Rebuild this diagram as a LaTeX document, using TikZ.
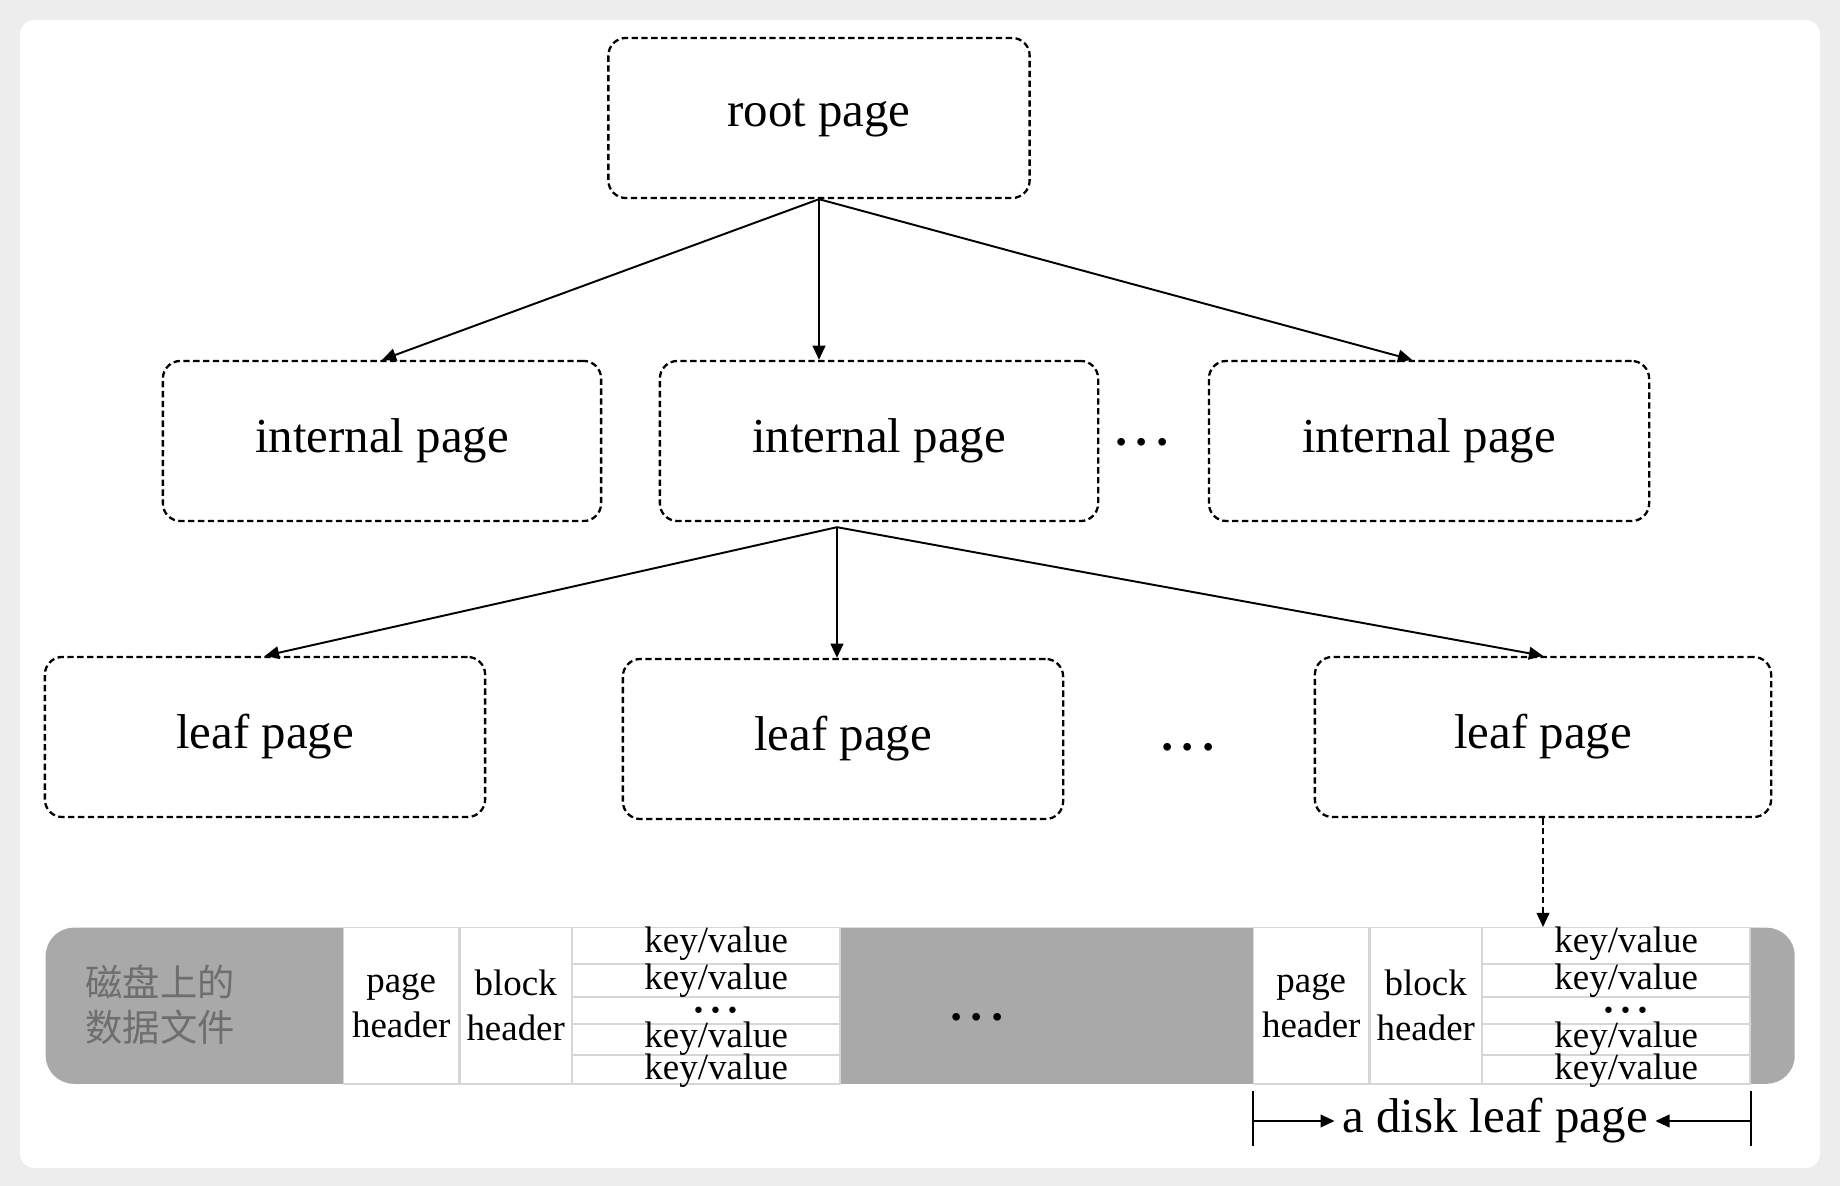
\documentclass[tikz,border=0pt]{standalone}
\usepackage{fontspec}
\setmainfont{Liberation Serif}
\newfontfamily\cjkfont{Noto Sans CJK SC}
\usetikzlibrary{arrows.meta}
\definecolor{bandgray}{HTML}{A9A9A9}
\definecolor{cellline}{HTML}{D6D6D6}
\definecolor{cjkgray}{HTML}{6E6E6E}
\definecolor{shotgray}{HTML}{EDEDED}

\tikzset{
  page/.style={draw, line width=0.65pt, dash pattern=on 1.8pt off 1pt, rounded corners=5pt,
    minimum height=1.6cm, font=\fontsize{13.9}{16}\selectfont},
  link/.style={line width=0.55pt, -{Triangle[length=4pt,width=3.6pt]}},
  cell/.style={draw=cellline, line width=0.4pt, fill=white, anchor=north west,
    minimum height=1.56cm, inner sep=0pt},
  small/.style={font=\fontsize{10.5}{12.8}\selectfont, inner sep=0pt, align=center},
  dots/.style={font=\fontsize{21}{21}\selectfont, inner sep=0pt},
}
\newcommand{\threedots}{${\cdot}{\cdot}{\cdot}$}

\begin{document}
\begin{tikzpicture}[x=0.01cm, y=-0.01cm]
\useasboundingbox (0,0) rectangle (1840,1186);
\fill[shotgray] (0,0) rectangle (1840,1186);
\fill[white, rounded corners=4pt] (20,20) rectangle (1820,1168);

% the tree
\node[page, minimum width=4.21cm] (root) at (819,118) {root page};
\node[page, minimum width=4.38cm] (int1) at (382,441) {internal page};
\node[page, minimum width=4.38cm] (int2) at (879,441) {internal page};
\node[page, minimum width=4.40cm] (int3) at (1429,441) {internal page};
\node[dots] (intdots) at (1142,444) {\threedots};
\node[page, minimum width=4.40cm] (leaf1) at (265,737) {leaf page};
\node[page, minimum width=4.40cm] (leaf2) at (843,739) {leaf page};
\node[page, minimum width=4.56cm] (leaf3) at (1543,737) {leaf page};
\node[dots] (leafdots) at (1188,749) {\threedots};

\draw[link] (root.south) -- (int1.north);
\draw[link] (root.south) -- (root.south |- int2.north);
\draw[link] (root.south) -- ([xshift=-0.17cm]int3.north);

\coordinate (fork) at ([xshift=-0.42cm,yshift=-0.05cm]int2.south);
\draw[link] (fork) -- (leaf1.north);
\draw[link] (fork) -- (fork |- leaf2.north);
\draw[link] (fork) -- (leaf3.north);

% data file on disk
\node[fill=bandgray, rounded corners=8pt, anchor=north west, minimum width=17.48cm,
  minimum height=1.56cm] (band) at (45,927) {};
\node[font=\cjkfont\fontsize{10.6}{12.7}\selectfont, text=cjkgray, align=left] (datafile)
  at (160,1005) {磁盘上的\\数据文件};
\node[dots] (banddots) at (977,1019) {\threedots};

\foreach \b/\x in {a/343, b/1253}{
  \node[cell, minimum width=1.15cm] (ph\b) at (\x,927) {};
  \node[cell, minimum width=1.11cm] (bh\b) at (ph\b.north east) {};
  \node[cell, minimum width=2.67cm] (kv\b) at (bh\b.north east) {};
  \foreach \y in {964,997,1024,1055}
    \draw[cellline, line width=0.4pt] (kv\b.west |- 0,\y) -- (kv\b.east |- 0,\y);
  \node[small] (ph\b-t) at (ph\b.center) {page\\header};
  \node[small] (bh\b-t) at (bh\b.center) {block\\header};
  \foreach \y in {944,981,1039,1071}
    \node[small, xshift=0.1cm] (kv\b-\y) at (kv\b.center |- 0,\y) {key/value};
  \node[dots, font=\fontsize{18}{18}\selectfont, xshift=0.1cm] (kv\b-dots)
    at (kv\b.center |- 0,1012) {\threedots};
}

\draw[link, dash pattern=on 1.8pt off 1pt] (leaf3.south) -- (leaf3.south |- kvb.north);

% one leaf page on disk
\coordinate (dl) at ([yshift=-0.06cm]phb.south west);
\coordinate (dr) at ([yshift=-0.06cm]kvb.south east);
\draw[line width=0.55pt] (dl) -- ++(0,55);
\draw[line width=0.55pt] (dr) -- ++(0,55);
\node[font=\fontsize{13.9}{16}\selectfont, inner sep=2pt] (disk) at (1495,1121) {a disk leaf page};
\draw[link] (disk.west -| dl) -- (disk.west);
\draw[link] (disk.east -| dr) -- (disk.east);
\end{tikzpicture}
\end{document}
